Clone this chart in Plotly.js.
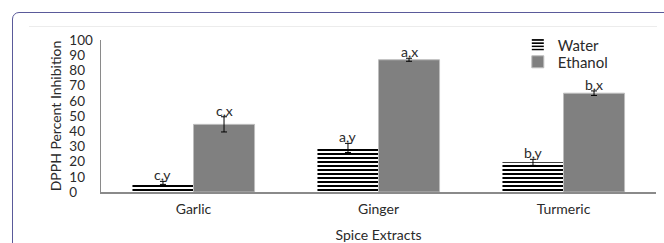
<!DOCTYPE html>
<html>
<head>
<meta charset="utf-8">
<script src="https://cdn.plot.ly/plotly-3.0.1.min.js"></script>
<style>
  html, body { margin: 0; padding: 0; background: #fff; overflow: hidden; }
  #frame { position: absolute; left: 12px; top: 12px; width: 700px; height: 300px;
           border: 1.5px solid #5a5a9a; border-radius: 7px; box-sizing: border-box; }
  #rule { position: absolute; left: 29px; top: 26px; width: 628px; height: 1px; background: #ececec; }
  #chart { position: absolute; left: 0; top: 0; width: 664px; height: 243px; }
</style>
</head>
<body>
<div id="frame"></div>
<div id="rule"></div>
<div id="chart"></div>
<script>
const categories = ["Garlic", "Ginger", "Turmeric"];
const waterValues = [6, 29, 19.5];
const waterErrors = [1, 3, 2];
const ethanolValues = [44.5, 87, 65];
const ethanolErrors = [5, 1, 1.5];
const waterLabels = ["c,y", "a,y", "b,y"];
const ethanolLabels = ["c,x", "a,x", "b,x"];
const yTickVals = [0, 10, 20, 30, 40, 50, 60, 70, 80, 90, 100];

const FONT = "Lato, 'Open Sans', sans-serif";
const TXT = "#2a2a2a";
const fs = "\u2007";
const yTickText = yTickVals.map(v => {
  const s = String(v);
  return s + fs.repeat(3 - s.length);
});

const water = {
  type: "bar", name: "Water", x: categories, y: waterValues, legend: "legend",
  marker: { color: "#ffffff", pattern: { shape: "-", size: 4, solidity: 0.5, fgcolor: "#000000", bgcolor: "#ffffff" }, line: { width: 0 } },
  error_y: { type: "data", array: waterErrors, visible: true, color: "#000000", thickness: 1, width: 3 }
};
const ethanol = {
  type: "bar", name: "Ethanol", x: categories, y: ethanolValues, legend: "legend2",
  marker: { color: "#808080", line: { color: "#bdbdbd", width: 1 } },
  error_y: { type: "data", array: ethanolErrors, visible: true, color: "#000000", thickness: 1, width: 3 }
};

const off = 0.165;
const annotations = [];
categories.forEach((c, i) => {
  annotations.push({ x: i - off, y: waterValues[i] + waterErrors[i], xref: "x", yref: "y", text: waterLabels[i],
    showarrow: false, yanchor: "bottom", yshift: -4, font: { family: FONT, size: 14, color: TXT } });
  annotations.push({ x: i + off, y: ethanolValues[i] + ethanolErrors[i], xref: "x", yref: "y", text: ethanolLabels[i],
    showarrow: false, yanchor: "bottom", yshift: -4, font: { family: FONT, size: 14, color: TXT } });
});

const legendBase = { xanchor: "left", yanchor: "middle", bgcolor: "rgba(0,0,0,0)",
  font: { family: FONT, size: 15, color: TXT }, itemwidth: 30 };

const layout = {
  width: 664, height: 243,
  margin: { l: 101, r: 8, t: 40, b: 51 },
  paper_bgcolor: "rgba(0,0,0,0)", plot_bgcolor: "rgba(0,0,0,0)",
  font: { family: FONT, size: 14, color: TXT },
  barmode: "group", bargap: 0.34, bargroupgap: 0,
  showlegend: true,
  legend: Object.assign({}, legendBase, { x: 0.751, y: 0.967 }),
  legend2: Object.assign({}, legendBase, { x: 0.751, y: 0.855 }),
  xaxis: {
    type: "category", range: [-0.5, 2.5], showline: true, linecolor: "#8a8a8a", linewidth: 1.5,
    ticks: "", showgrid: false, zeroline: false, fixedrange: true, ticklabelstandoff: 4,
    tickfont: { family: FONT, size: 14, color: TXT },
    title: { text: "Spice Extracts", font: { family: FONT, size: 14, color: TXT }, standoff: 18 }
  },
  yaxis: {
    range: [0, 100], tickvals: yTickVals, ticktext: yTickText, showline: true, linecolor: "#8a8a8a", linewidth: 1.5,
    ticks: "", showgrid: false, zeroline: false, fixedrange: true, ticklabelstandoff: 4,
    tickfont: { family: FONT, size: 13.5, color: TXT },
    title: { text: "DPPH Percent Inhibition", font: { family: FONT, size: 14, color: TXT }, standoff: 4 }
  },
  annotations: annotations
};

Plotly.newPlot("chart", [water, ethanol], layout, { displayModeBar: false, staticPlot: true });
</script>
</body>
</html>
